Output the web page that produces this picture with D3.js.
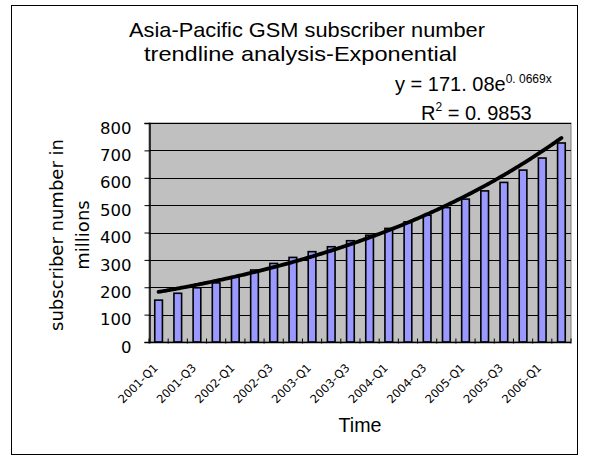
<!DOCTYPE html>
<html><head><meta charset="utf-8">
<script src="https://cdn.jsdelivr.net/npm/d3@7"></script>
<style>body{margin:0;background:#fff}</style>
</head><body>
<svg id="c" width="589" height="460"></svg>
<script>
const categories = ["2001-Q1","2001-Q2","2001-Q3","2001-Q4","2002-Q1","2002-Q2","2002-Q3","2002-Q4",
  "2003-Q1","2003-Q2","2003-Q3","2003-Q4","2004-Q1","2004-Q2","2004-Q3","2004-Q4",
  "2005-Q1","2005-Q2","2005-Q3","2005-Q4","2006-Q1","2006-Q2"];
const subscribers = [153,178,198,216,238,263,287,309,330,348,370,390,415,439,463,491,522,552,583,628,672,727];
const tickLabels = ["2001-Q1","2001-Q3","2002-Q1","2002-Q3","2003-Q1","2003-Q3","2004-Q1","2004-Q3","2005-Q1","2005-Q3","2006-Q1"];
const yTicks = [0,100,200,300,400,500,600,700,800];
const trendCoef = [171.08, 0.0669];
const trendLabels = ["171. 08", "0. 0669x", "0. 9853"];
const titleLines = ["Asia-Pacific GSM subscriber number","trendline analysis-Exponential"];
const yTitleLines = ["subscriber number in","millions"];

const svg = d3.select("#c");
const L = 149, R = 571, T = 123, B = 342;

// chart frame
svg.append("rect").attr("x",11.5).attr("y",5.5).attr("width",566).attr("height",449)
  .attr("fill","#fff").attr("stroke","#000").attr("stroke-width",1);

const x = d3.scaleBand().domain(categories).range([L,R]).paddingInner(0.6).paddingOuter(0.3);
const xi = d3.scaleLinear().domain([0.5, categories.length+0.5]).range([L,R]);
const y = d3.scaleLinear().domain([0,800]).range([B,T]);

// plot area
svg.append("rect").attr("x",L).attr("y",T).attr("width",R-L).attr("height",B-T)
  .attr("fill","#C0C0C0").attr("stroke","#808080").attr("stroke-width",1);

// gridlines
svg.append("g").selectAll("line").data(yTicks.filter(d=>d>0)).join("line")
  .attr("x1",L).attr("x2",R).attr("y1",d=>Math.round(y(d))+0.5).attr("y2",d=>Math.round(y(d))+0.5)
  .attr("stroke","#000").attr("stroke-width",1);

// bars
svg.append("g").selectAll("rect").data(subscribers).join("rect")
  .attr("x",(d,i)=>x(categories[i])).attr("width",x.bandwidth())
  .attr("y",d=>y(d)).attr("height",d=>B-y(d))
  .attr("fill","#9999FF").attr("stroke","#000").attr("stroke-width",1.6);

// y axis
const yAxis = d3.axisLeft(y).tickValues(yTicks).tickSize(5).tickPadding(13);
const gy = svg.append("g").attr("transform",`translate(${L+0.5},0)`).call(yAxis);
gy.select(".domain").attr("stroke","#000").attr("stroke-width",1.5);
gy.selectAll(".tick line").attr("stroke","#000");
gy.selectAll(".tick text").attr("font-family","DejaVu Sans, Verdana, sans-serif").attr("font-size",16.5)
  .attr("fill","#000").attr("dy","0.62em");

// x axis
const gx = svg.append("g").attr("transform",`translate(0,${B+0.5})`);
gx.append("line").attr("x1",L).attr("x2",R).attr("stroke","#000").attr("stroke-width",1.5);
gx.selectAll("line.t").data(d3.range(categories.length+1)).join("line").attr("class","t")
  .attr("x1",i=>xi(i+0.5)).attr("x2",i=>xi(i+0.5)).attr("y1",-4).attr("y2",1)
  .attr("stroke","#000");
gx.selectAll("text").data(tickLabels).join("text")
  .attr("transform",d=>`translate(${x(d)+x.bandwidth()/2},${26}) rotate(-45)`)
  .attr("text-anchor","end").attr("font-family","DejaVu Sans, Verdana, sans-serif")
  .attr("font-size",11.5).attr("fill","#000").text(d=>d);

// trendline
const tPts = d3.range(1, categories.length+0.001, 0.1).map(v=>[v, trendCoef[0]*Math.exp(trendCoef[1]*v)]);
svg.append("path").datum(tPts)
  .attr("d", d3.line().x(d=>xi(d[0])).y(d=>y(d[1])).curve(d3.curveMonotoneX))
  .attr("fill","none").attr("stroke","#000").attr("stroke-width",3.8).attr("stroke-linecap","round");

// title
const tf = "'Liberation Sans', Arial, sans-serif";
svg.append("text").attr("x",307).attr("y",37).attr("text-anchor","middle")
  .attr("font-family",tf).attr("font-size",21)
  .attr("textLength",356).attr("lengthAdjust","spacingAndGlyphs").text(titleLines[0]);
svg.append("text").attr("x",300.5).attr("y",61).attr("text-anchor","middle")
  .attr("font-family",tf).attr("font-size",21)
  .attr("textLength",313).attr("lengthAdjust","spacingAndGlyphs").text(titleLines[1]);

// equation
const eq = svg.append("text").attr("x",395).attr("y",91).attr("font-family",tf).attr("font-size",20);
eq.append("tspan").text("y = " + trendLabels[0] + "e");
eq.append("tspan").attr("dy",-8).attr("font-size",12).text(trendLabels[1]);
const r2 = svg.append("text").attr("x",421).attr("y",120).attr("font-family",tf).attr("font-size",20);
r2.append("tspan").text("R");
r2.append("tspan").attr("dy",-9).attr("font-size",12).text("2");
r2.append("tspan").attr("dy",9).text(" = " + trendLabels[2]);

// y title
const yt = svg.append("text").attr("transform","translate(0,235) rotate(-90)")
  .attr("text-anchor","middle").attr("font-family","DejaVu Sans, Verdana, sans-serif").attr("font-size",18);
yt.append("tspan").attr("x",0).attr("y",63).text(yTitleLines[0]);
yt.append("tspan").attr("x",0).attr("y",89).text(yTitleLines[1]);

// x title
svg.append("text").attr("x",(L+R)/2).attr("y",432).attr("text-anchor","middle")
  .attr("font-family",tf).attr("font-size",21).attr("textLength",43).attr("lengthAdjust","spacingAndGlyphs")
  .text("Time");
</script>
</body></html>
